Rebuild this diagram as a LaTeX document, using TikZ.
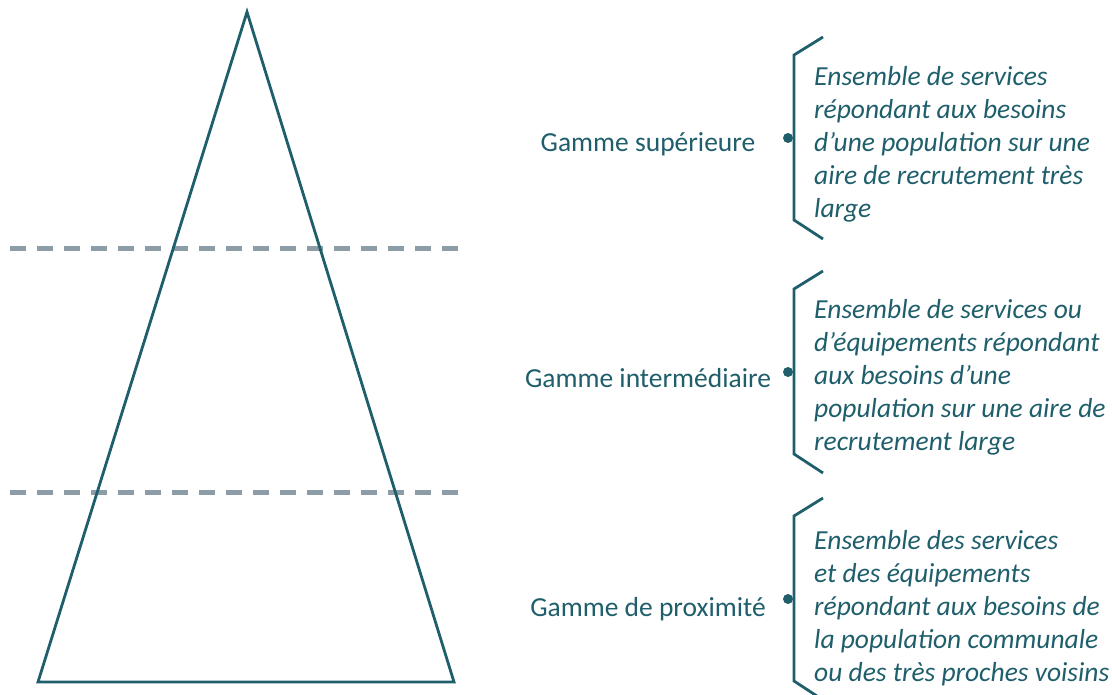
\documentclass[tikz,border=0pt]{standalone}
\usepackage{fontspec}
\setmainfont{Carlito}
\definecolor{tealA}{RGB}{31,94,107}
\definecolor{dashgray}{RGB}{140,157,167}
\begin{document}
\begin{tikzpicture}[x=1pt,y=-1pt,
  tri/.style={draw=tealA, line width=2.8pt, line join=miter},
  sepline/.style={draw=dashgray, line width=5pt, dash pattern=on 16pt off 11pt},
  bracket/.style={draw=tealA, line width=2.8pt, line join=miter},
  dotnode/.style={circle, fill=tealA, inner sep=0pt, minimum size=10pt},
  gamme/.style={text=tealA, inner sep=0pt, font=\fontsize{27.5}{33}\selectfont},
  desc/.style={text=tealA, inner sep=0pt, anchor=west, align=left, font=\fontsize{27.5}{33}\selectfont\itshape}]
\useasboundingbox (0,0) rectangle (1112,695);
% separators
\coordinate (s1a) at (10,249); \coordinate (s1b) at (458,249);
\coordinate (s2a) at (10,492); \coordinate (s2b) at (458,492);
\draw[sepline] (s1a) -- (s1b);
\draw[sepline] (s2a) -- (s2b);
% triangle
\coordinate (apex) at (247,12);
\coordinate (bl) at (38,682);
\coordinate (br) at (454,682);
\draw[tri] (apex) -- (br) -- (bl) -- cycle;
% labels
\node[gamme] (g1) at (648,144) {Gamme supérieure};
\node[gamme] (g2) at (648,378) {Gamme intermédiaire};
\node[gamme] (g3) at (648,609) {Gamme de proximité};
% brackets
\foreach \i/\yc in {1/138, 2/372, 3/599} {
  \coordinate (t\i) at (823,\yc-101);
  \coordinate (tc\i) at (794,\yc-83);
  \coordinate (bc\i) at (794,\yc+82);
  \coordinate (b\i) at (823,\yc+101);
  \draw[bracket] (t\i) -- (tc\i) -- (bc\i) -- (b\i);
  \node[dotnode] (d\i) at (788,\yc) {};
}
% descriptions
\node[desc] (e1) at (814,144) {Ensemble de services\\répondant aux besoins\\d’une population sur une\\aire de recrutement très\\large};
\node[desc] (e2) at (814,377) {Ensemble de services ou\\d’équipements répondant\\aux besoins d’une\\population sur une aire de\\recrutement large};
\node[desc] (e3) at (814,608) {Ensemble des services\\et des équipements\\répondant aux besoins de\\la population communale\\ou des très proches voisins};
\end{tikzpicture}
\end{document}
